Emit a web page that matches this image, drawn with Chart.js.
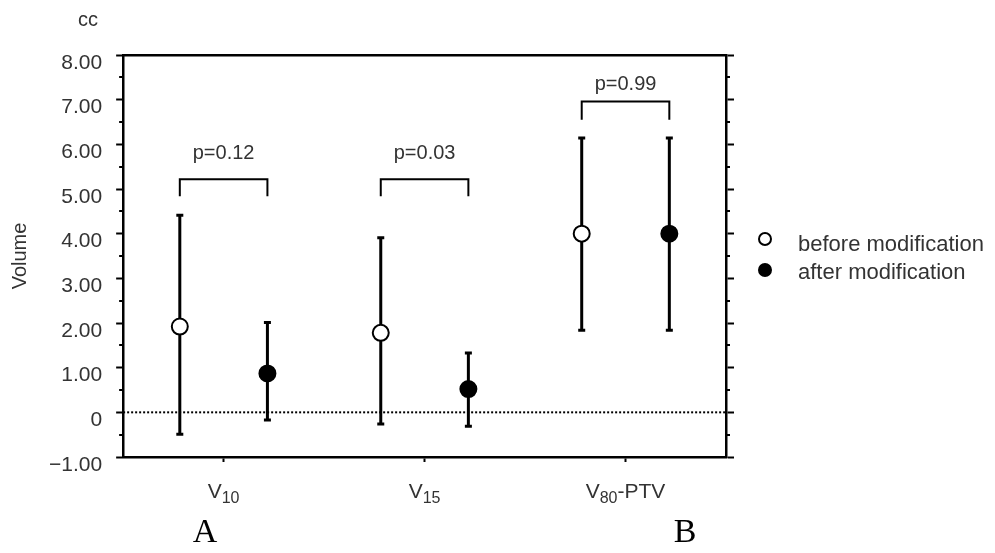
<!DOCTYPE html>
<html>
<head>
<meta charset="utf-8">
<script src="https://cdn.jsdelivr.net/npm/chart.js@4.4.1/dist/chart.umd.min.js"></script>
<style>
  html, body { margin: 0; padding: 0; background: #fff; }
</style>
</head>
<body>
<canvas id="volumeChart" width="995" height="553"></canvas>
<script>
// Données
const categories = ['V10', 'V15', 'V80-PTV'];
const seriesNames = ['before modification', 'after modification'];
const beforeMean = [1.92, 1.78, 4.00];
const beforeLow = [-0.49, -0.26, 1.84];
const beforeHigh = [4.41, 3.91, 6.14];
const afterMean = [0.87, 0.52, 4.00];
const afterLow = [-0.17, -0.31, 1.84];
const afterHigh = [2.01, 1.33, 6.14];
const pLabels = ['p=0.12', 'p=0.03', 'p=0.99'];
const pLabelY = [5.79, 5.79, 7.34];
const bracketTop = [5.22, 5.22, 6.96];
const bracketFoot = [4.84, 4.84, 6.55];
const yTickLabels = ['−1.00', '0', '1.00', '2.00', '3.00', '4.00', '5.00', '6.00', '7.00', '8.00'];

const yMin = -1, yMax = 8;
const xMin = 0.5, xMax = 3.5;
const FONT = '"Liberation Sans", Arial, sans-serif';

// chaque paire est placée de part et d'autre du tick de sa catégorie
const pairShift = 0.218;
const groupX = categories.map((c, i) => i + 1);
const beforeX = groupX.map(x => x - pairShift);
const afterX = groupX.map(x => x + pairShift);

function errorBar(x, lo, hi) {
    return {
        data: [{x: x, y: lo}, {x: x, y: hi}],
        showLine: true,
        borderColor: '#000',
        borderWidth: 3,
        pointStyle: 'line',
        pointRadius: 3.5,
        pointBorderWidth: 3,
        pointBorderColor: '#000',
        order: 1
    };
}

function bracket(i) {
    return {
        data: [
            {x: beforeX[i], y: bracketFoot[i]},
            {x: beforeX[i], y: bracketTop[i]},
            {x: afterX[i], y: bracketTop[i]},
            {x: afterX[i], y: bracketFoot[i]}
        ],
        showLine: true,
        borderColor: '#000',
        borderWidth: 2,
        borderJoinStyle: 'miter',
        pointRadius: 0,
        order: 2
    };
}

const datasets = [
    {
        label: seriesNames[0],
        data: beforeX.map((x, i) => ({x: x, y: beforeMean[i]})),
        pointRadius: 8,
        pointBackgroundColor: '#fff',
        pointBorderColor: '#000',
        pointBorderWidth: 2,
        order: 0
    },
    {
        label: seriesNames[1],
        data: afterX.map((x, i) => ({x: x, y: afterMean[i]})),
        pointRadius: 8,
        pointBackgroundColor: '#000',
        pointBorderColor: '#000',
        pointBorderWidth: 2,
        order: 0
    }
];
groupX.forEach((g, i) => {
    datasets.push(errorBar(beforeX[i], beforeLow[i], beforeHigh[i]));
    datasets.push(errorBar(afterX[i], afterLow[i], afterHigh[i]));
    datasets.push(bracket(i));
});
// ligne pointillée à zéro
datasets.push({
    data: [{x: xMin, y: 0}, {x: xMax, y: 0}],
    showLine: true,
    borderColor: '#000',
    borderWidth: 2,
    borderDash: [2, 2],
    pointRadius: 0,
    order: 3
});

// étiquette avec indice : "V" + chiffres en indice + reste
function drawCategory(ctx, label, cx, baseline) {
    const m = label.match(/^([A-Za-z]+)(\d+)(.*)$/);
    const parts = m ? [[m[1], 21, 0], [m[2], 16, 5], [m[3], 21, 0]] : [[label, 21, 0]];
    let total = 0;
    parts.forEach(p => { ctx.font = p[1] + 'px ' + FONT; total += ctx.measureText(p[0]).width; });
    let px = cx - total / 2;
    parts.forEach(p => {
        ctx.font = p[1] + 'px ' + FONT;
        ctx.fillText(p[0], px, baseline + p[2]);
        px += ctx.measureText(p[0]).width;
    });
}

// Textes et petites graduations
const extras = {
    id: 'extras',
    afterDraw(chart) {
        const {ctx, chartArea, scales} = chart;
        const sx = scales.x, sy = scales.y;
        ctx.save();

        ctx.strokeStyle = '#000';
        ctx.lineWidth = 2;
        ctx.beginPath();
        for (let v = yMin + 0.5; v < yMax; v += 1) {
            const py = Math.round(sy.getPixelForValue(v));
            ctx.moveTo(chartArea.left - 4, py);
            ctx.lineTo(chartArea.left, py);
            ctx.moveTo(chartArea.right, py);
            ctx.lineTo(chartArea.right + 4, py);
        }
        ctx.stroke();

        ctx.fillStyle = '#333';
        ctx.textAlign = 'left';
        ctx.textBaseline = 'alphabetic';
        categories.forEach((c, i) => {
            drawCategory(ctx, c, sx.getPixelForValue(groupX[i]), chartArea.bottom + 41);
        });

        ctx.font = '20px ' + FONT;
        ctx.textAlign = 'center';
        ctx.textBaseline = 'middle';
        pLabels.forEach((t, i) => {
            const px = sx.getPixelForValue((beforeX[i] + afterX[i]) / 2);
            ctx.fillText(t, px, sy.getPixelForValue(pLabelY[i]));
        });
        ctx.fillText('cc', 88, 20);

        // légende
        const legendY = [239, 270];
        const textY = [251, 279];
        [0, 1].forEach(i => {
            const ds = chart.data.datasets[i];
            ctx.beginPath();
            ctx.arc(765, legendY[i], 6, 0, Math.PI * 2);
            ctx.fillStyle = ds.pointBackgroundColor;
            ctx.fill();
            ctx.lineWidth = 2;
            ctx.strokeStyle = ds.pointBorderColor;
            ctx.stroke();
            ctx.fillStyle = '#333';
            ctx.font = '22px ' + FONT;
            ctx.textAlign = 'left';
            ctx.textBaseline = 'alphabetic';
            ctx.fillText(ds.label, 798, textY[i]);
        });

        ctx.fillStyle = '#000';
        ctx.font = '34px "Liberation Serif", "Times New Roman", serif';
        ctx.textAlign = 'center';
        ctx.textBaseline = 'middle';
        ctx.fillText('A', 205, 533);
        ctx.fillText('B', 685, 533);
        ctx.restore();
    }
};

const axisBorder = {display: true, color: '#000', width: 2.5};

new Chart(document.getElementById('volumeChart'), {
    type: 'scatter',
    data: {datasets: datasets},
    options: {
        responsive: false,
        animation: false,
        events: [],
        layout: {padding: {left: 0, top: 55, right: 261, bottom: 91}},
        plugins: {
            legend: {display: false},
            tooltip: {enabled: false}
        },
        scales: {
            x: {
                type: 'linear',
                min: xMin,
                max: xMax,
                afterBuildTicks: s => { s.ticks = groupX.map(v => ({value: v})); },
                grid: {drawOnChartArea: false, drawTicks: true, tickLength: 5, tickWidth: 2, tickColor: '#000'},
                border: axisBorder,
                ticks: {display: false}
            },
            x2: {
                type: 'linear',
                position: 'top',
                grid: {display: false, drawTicks: false},
                ticks: {display: false},
                border: axisBorder
            },
            y: {
                min: yMin,
                max: yMax,
                afterBuildTicks: s => { s.ticks = yTickLabels.map((l, i) => ({value: yMin + i})); },
                grid: {drawOnChartArea: false, drawTicks: true, tickLength: 7, tickWidth: 2, tickColor: '#000'},
                border: axisBorder,
                ticks: {
                    callback: (v, i) => yTickLabels[i],
                    color: '#333',
                    font: {family: FONT, size: 21},
                    padding: 14,
                    labelOffset: 8
                },
                title: {
                    display: true,
                    text: 'Volume',
                    color: '#333',
                    font: {family: FONT, size: 20},
                    padding: {top: 8, bottom: 3}
                }
            },
            y2: {
                position: 'right',
                min: yMin,
                max: yMax,
                afterBuildTicks: s => { s.ticks = yTickLabels.map((l, i) => ({value: yMin + i})); },
                grid: {drawOnChartArea: false, drawTicks: true, tickLength: 8, tickWidth: 2, tickColor: '#000'},
                border: axisBorder,
                ticks: {display: false}
            }
        }
    },
    plugins: [extras]
});
</script>
</body>
</html>
